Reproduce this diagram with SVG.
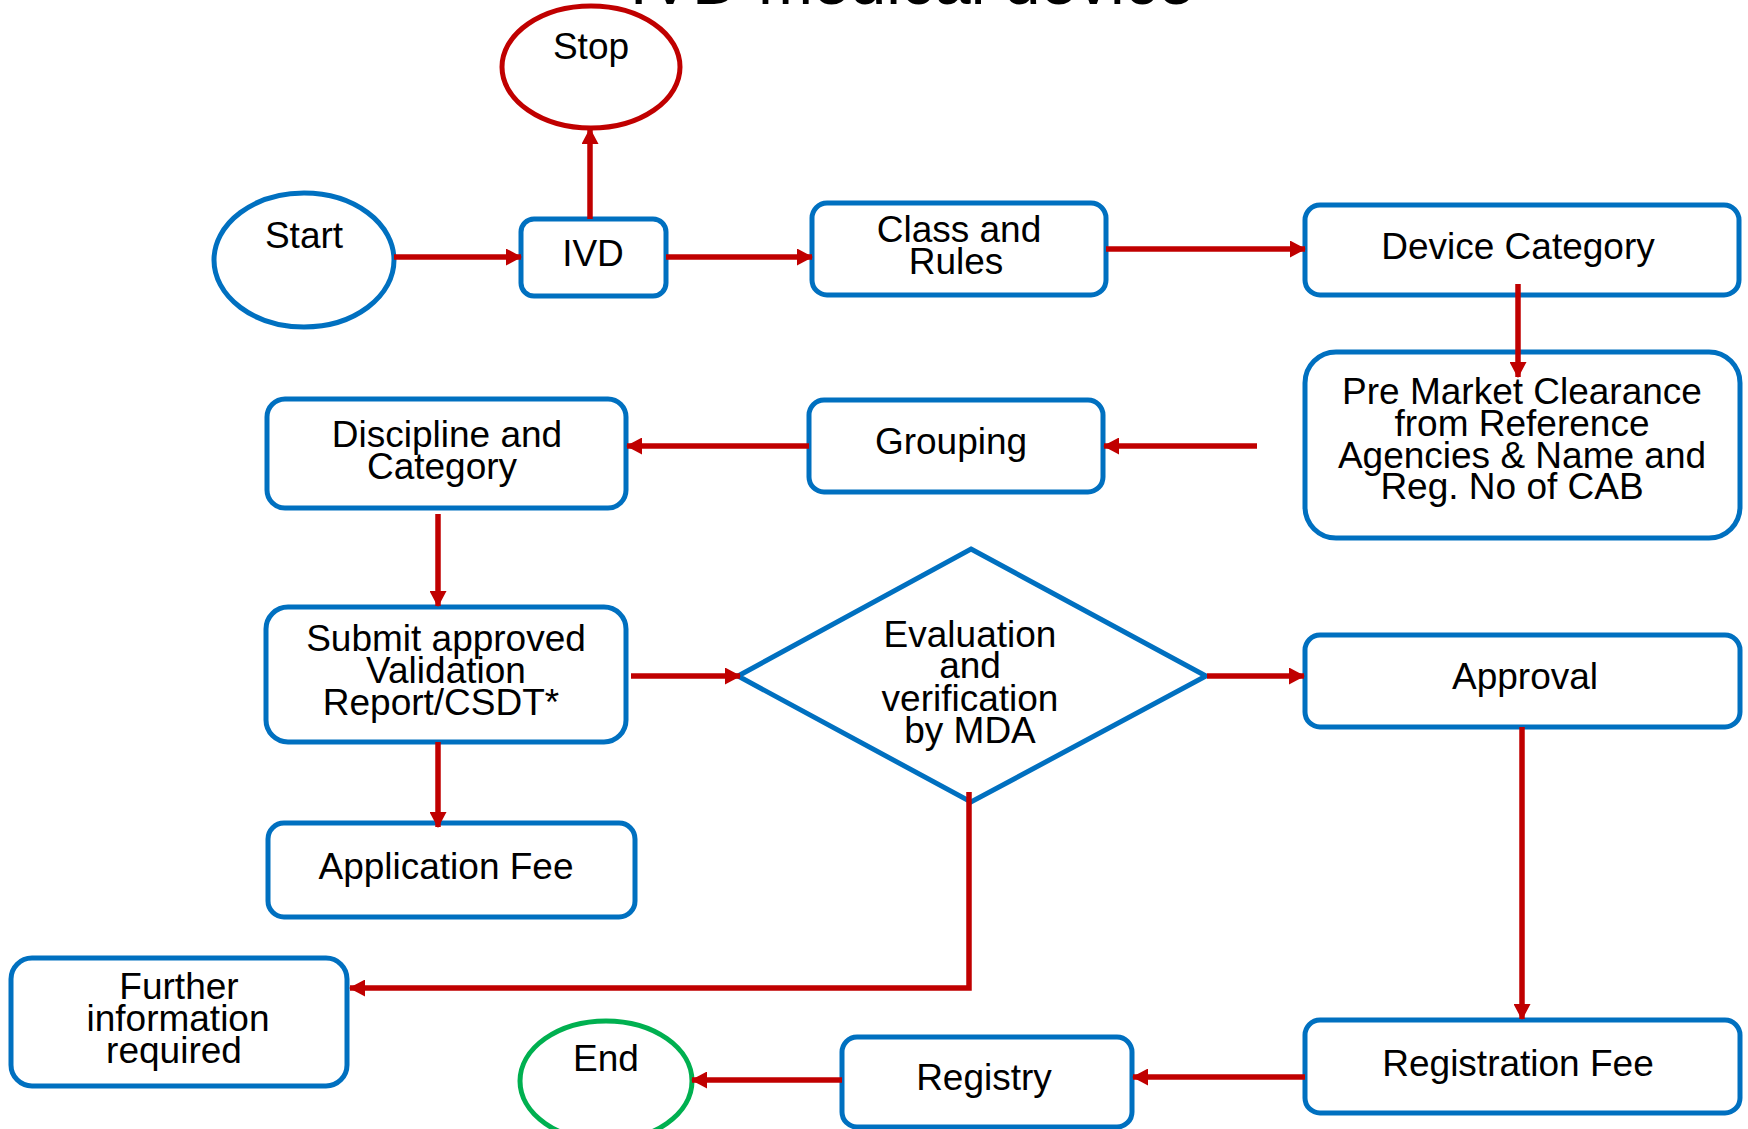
<svg xmlns="http://www.w3.org/2000/svg" width="1748" height="1129" viewBox="0 0 1748 1129">
<style>
.box{fill:#FFFFFF;stroke:#0070C0;stroke-width:5}
.t{font-family:"Liberation Sans",Arial,sans-serif;font-size:37px;fill:#000000;text-anchor:middle}
.title{font-family:"Liberation Sans",Arial,sans-serif;font-size:66px;fill:#000000;text-anchor:middle}
.c{fill:none;stroke:#C00000;stroke-width:5.5;marker-end:url(#ah)}
</style>
<defs>
<marker id="ah" markerUnits="userSpaceOnUse" markerWidth="16" markerHeight="17" refX="15" refY="8.5" orient="auto">
<path d="M0,0 L16,8.5 L0,17 Z" fill="#C00000"/>
</marker>
</defs>
<rect width="1748" height="1129" fill="#FFFFFF"/>
<text class="title" x="912" y="4">IVD medical device</text>
<g id="nodes">
<g id="stop"><ellipse class="box" cx="591" cy="67" rx="89" ry="61" style="stroke:#C00000"/><text class="t" x="591" y="59">Stop</text></g>
<g id="start"><ellipse class="box" cx="304" cy="260" rx="90" ry="67"/><text class="t" x="304" y="248">Start</text></g>
<g id="ivd"><rect class="box" x="521" y="219" width="145" height="77" rx="13"/><text class="t" x="593" y="266">IVD</text></g>
<g id="class"><rect class="box" x="812" y="203" width="294" height="92" rx="15"/><text class="t" x="959" y="242">Class and</text><text class="t" x="956" y="274">Rules</text></g>
<g id="device"><rect class="box" x="1305" y="205" width="434" height="90" rx="15"/><text class="t" x="1518" y="259">Device Category</text></g>
<g id="premarket"><rect class="box" x="1305" y="352" width="435" height="186" rx="31"/><text class="t" x="1522" y="404">Pre Market Clearance</text><text class="t" x="1522" y="436">from Reference</text><text class="t" x="1522" y="468">Agencies &amp; Name and</text><text class="t" x="1512" y="499">Reg. No of CAB</text></g>
<g id="grouping"><rect class="box" x="809" y="400" width="294" height="92" rx="15"/><text class="t" x="951" y="454">Grouping</text></g>
<g id="discipline"><rect class="box" x="267" y="399" width="359" height="109" rx="18"/><text class="t" x="447" y="447">Discipline and</text><text class="t" x="442" y="479">Category</text></g>
<g id="submit"><rect class="box" x="266" y="607" width="360" height="135" rx="22"/><text class="t" x="446" y="651">Submit approved</text><text class="t" x="446" y="683">Validation</text><text class="t" x="441" y="715">Report/CSDT*</text></g>
<g id="evaluation"><polygon class="box" points="971,549 1206,676 971,802 738,676"/><text class="t" x="970" y="647">Evaluation</text><text class="t" x="970" y="678">and</text><text class="t" x="970" y="711">verification</text><text class="t" x="970" y="743">by MDA</text></g>
<g id="approval"><rect class="box" x="1305" y="635" width="435" height="92" rx="15"/><text class="t" x="1525" y="689">Approval</text></g>
<g id="appfee"><rect class="box" x="268" y="823" width="367" height="94" rx="16"/><text class="t" x="446" y="879">Application Fee</text></g>
<g id="further"><rect class="box" x="11" y="958" width="336" height="128" rx="21"/><text class="t" x="179" y="999">Further</text><text class="t" x="178" y="1031">information</text><text class="t" x="174" y="1063">required</text></g>
<g id="regfee"><rect class="box" x="1305" y="1020" width="435" height="93" rx="15"/><text class="t" x="1518" y="1076">Registration Fee</text></g>
<g id="registry"><rect class="box" x="842" y="1037" width="290" height="90" rx="15"/><text class="t" x="984" y="1090">Registry</text></g>
<g id="end"><ellipse class="box" cx="606" cy="1081" rx="86" ry="60" style="stroke:#00B050"/><text class="t" x="606" y="1071">End</text></g>
</g>
<g id="connectors">
<path class="c" d="M394,257 H521"/>
<path class="c" d="M590,219 V129"/>
<path class="c" d="M666,257 H812"/>
<path class="c" d="M1106,249 H1305"/>
<path class="c" d="M1518,284 V377"/>
<path class="c" d="M1257,446 H1104"/>
<path class="c" d="M809,446 H627"/>
<path class="c" d="M438,514 V606"/>
<path class="c" d="M438,742 V827"/>
<path class="c" d="M631,676 H740"/>
<path class="c" d="M1207,676 H1304"/>
<path class="c" d="M969,792 V988 H350" style="stroke-linejoin:miter"/>
<path class="c" d="M1522,727 V1019"/>
<path class="c" d="M1305,1077 H1133"/>
<path class="c" d="M842,1080 H692"/>
</g>
</svg>
